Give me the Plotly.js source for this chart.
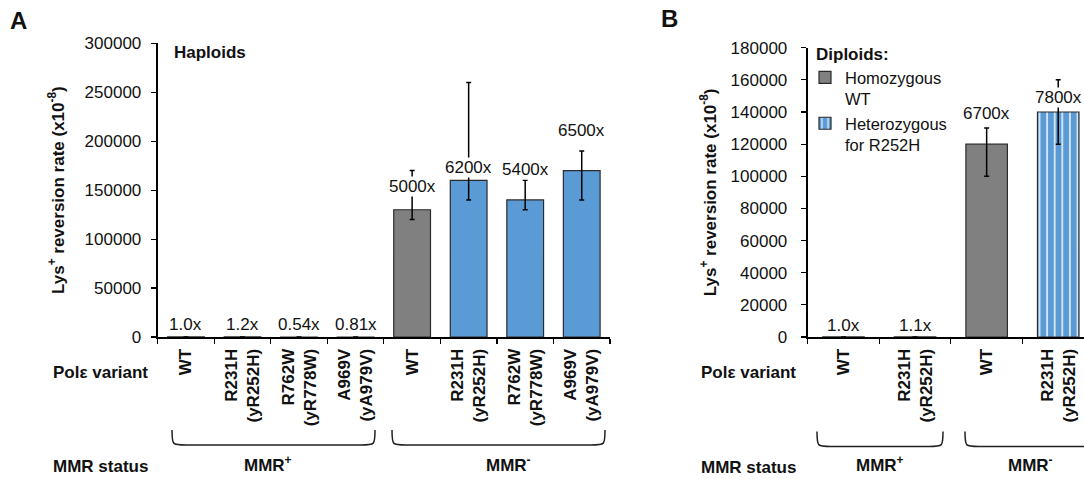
<!DOCTYPE html>
<html>
<head>
<meta charset="utf-8">
<script src="https://cdn.plot.ly/plotly-3.0.1.min.js"></script>
<style>html,body{margin:0;padding:0;background:#fff;}#chart{width:1084px;height:479px;}</style>
</head>
<body>
<div id="chart"></div>
<script>
// ---------- data ----------
const catIdsA = ["a_wt_p","a_r231_p","a_r762_p","a_a969_p","a_wt_m","a_r231_m","a_r762_m","a_a969_m"];
const tickTextA = ["WT","R231H<br>(yR252H)","R762W<br>(yR778W)","A969V<br>(yA979V)","WT","R231H<br>(yR252H)","R762W<br>(yR778W)","A969V<br>(yA979V)"];
const ratesA = [26, 31, 14, 21, 130000, 160000, 140000, 170000];
const errPlusA = [0, 0, 0, 0, 40000, 100000, 20000, 20000];
const errMinusA = [0, 0, 0, 0, 10000, 20000, 10000, 30000];
const foldA = ["1.0x","1.2x","0.54x","0.81x","5000x","6200x","5400x","6500x"];
const isWtA = [true, false, false, false, true, false, false, false];

const catIdsB = ["b_wt_p","b_r231_p","b_wt_m","b_r231_m"];
const tickTextB = ["WT","R231H<br>(yR252H)","WT","R231H<br>(yR252H)"];
const ratesB = [18, 20, 120000, 140000];
const errPlusB = [0, 0, 10000, 20000];
const errMinusB = [0, 0, 20000, 20000];
const foldB = ["1.0x","1.1x","6700x","7800x"];
const isWtB = [true, false, true, false];

const groupLabels = ["MMR<sup>+</sup>", "MMR<sup>-</sup>"];

// ---------- styling / positions ----------
const W = 1084, H = 479, MT = 40, MB = 142;
const PH = H - MT - MB;
const px = p => p / W;
const py = p => (H - MB - p) / PH;
const GRAY = "#808080", BLUE = "#5b9bd5", EDGE = "#2b2b2b", TXT = "#111111";
const FONT = "Liberation Sans, Arial, sans-serif";
const liftA = [12, 12, 12, 12, 23, 13, 30, 40];   // label centre above bar top (px)
const liftB = [11, 11, 31, 14];

function pick(arr, mask, want) { return arr.filter((_, i) => mask[i] === want); }

const errStyle = {type: "data", visible: true, color: "#000", thickness: 1.5, width: 2.5};

const traces = [
  {
    type: "bar", x: catIdsA, y: ratesA, xaxis: "x", yaxis: "y", width: 0.65,
    marker: {color: isWtA.map(w => w ? GRAY : BLUE), line: {color: EDGE, width: 1.2}},
    error_y: Object.assign({array: errPlusA, arrayminus: errMinusA, symmetric: false}, errStyle),
    showlegend: false, hoverinfo: "x+y"
  },
  {
    type: "bar", name: "Homozygous<br>WT",
    x: pick(catIdsB, isWtB, true), y: pick(ratesB, isWtB, true), xaxis: "x2", yaxis: "y2", width: 0.58,
    marker: {color: GRAY, line: {color: EDGE, width: 1.2}},
    error_y: Object.assign({array: pick(errPlusB, isWtB, true), arrayminus: pick(errMinusB, isWtB, true), symmetric: false}, errStyle)
  },
  {
    type: "bar", name: "Heterozygous<br>for R252H",
    x: pick(catIdsB, isWtB, false), y: pick(ratesB, isWtB, false), xaxis: "x2", yaxis: "y2", width: 0.58,
    marker: {color: BLUE, line: {color: EDGE, width: 1.2},
             pattern: {shape: "|", fgcolor: "#ffffff", bgcolor: BLUE, size: 7.6, solidity: 0.18, fillmode: "replace"}},
    error_y: Object.assign({array: pick(errPlusB, isWtB, false), arrayminus: pick(errMinusB, isWtB, false), symmetric: false}, errStyle)
  }
];

const axisFont = {family: FONT, size: 17, color: TXT};
const boldFont = {family: FONT, size: 17, color: TXT, weight: "bold"};

function xAxis(domain, ids, texts, range) {
  return {
    domain: domain, type: "category", categoryorder: "array", categoryarray: ids,
    tickmode: "array", tickvals: ids, ticktext: texts, tickangle: -90,
    tickson: "boundaries", ticks: "outside", ticklen: 5, tickwidth: 1.2, tickcolor: "#000",
    showline: true, linecolor: "#000", linewidth: 2, showgrid: false, zeroline: false,
    tickfont: boldFont, range: range, fixedrange: true, ticklabelstandoff: 3
  };
}
function yAxis(domain, anchor, max, dtick, standoff, titleStandoff) {
  return {
    domain: domain, anchor: anchor, range: [0, max], dtick: dtick, tickformat: "d",
    ticks: "outside", ticklen: 5, tickwidth: 1.2, tickcolor: "#000",
    showline: true, linecolor: "#000", linewidth: 2, showgrid: false, zeroline: false,
    tickfont: axisFont, ticklabelstandoff: standoff, fixedrange: true,
    title: {text: "Lys<sup>+</sup> reversion rate (x10<sup>-8</sup>)", font: boldFont, standoff: titleStandoff}
  };
}

const annotations = [];
function addFold(list, ids, vals, lifts, xref, yref) {
  list.forEach((t, i) => annotations.push({
    xref: xref, yref: yref, x: ids[i], y: vals[i], text: t, showarrow: false,
    yanchor: "middle", yshift: lifts[i], font: axisFont, bgcolor: "#ffffff", borderpad: 0
  }));
}
addFold(foldA, catIdsA, ratesA, liftA, "x", "y");
addFold(foldB, catIdsB, ratesB, liftB, "x2", "y2");

function paperText(text, x, y, anchor, font) {
  annotations.push({xref: "paper", yref: "paper", x: px(x), y: py(y), text: text, showarrow: false,
    xanchor: anchor, yanchor: "middle", font: font || boldFont});
}
paperText("A", 8, 20, "left", {family: FONT, size: 24, color: TXT, weight: "bold"});
paperText("B", 659, 19, "left", {family: FONT, size: 24, color: TXT, weight: "bold"});
paperText("Haploids", 172, 52, "left");
paperText("Pol\u03b5 variant", 150, 373, "right");
paperText("MMR status", 150, 466, "right");
paperText("Pol\u03b5 variant", 798, 373, "right");
paperText("MMR status", 798, 467, "right");
paperText(groupLabels[0], 268, 464, "center");
paperText(groupLabels[1], 508, 464, "center");
paperText(groupLabels[0], 880, 464, "center");
paperText(groupLabels[1], 1030, 464, "center");

function brace(x1, x2, top, bottom) {
  const r = 14;
  const path = `M ${px(x1)},${py(top)} C ${px(x1)},${py(bottom)} ${px(x1)},${py(bottom)} ${px(x1 + r)},${py(bottom)} ` +
               `L ${px(x2 - r)},${py(bottom)} C ${px(x2)},${py(bottom)} ${px(x2)},${py(bottom)} ${px(x2)},${py(top)}`;
  return {type: "path", xref: "paper", yref: "paper", path: path, line: {color: "#222", width: 1.5}};
}
const shapes = [
  brace(172, 375, 430, 445),
  brace(392, 605, 430, 445),
  brace(817, 943, 431.5, 446.5),
  brace(965, 1105, 431.5, 446.5)
];

const layout = {
  width: W, height: H, margin: {l: 0, r: 0, t: MT, b: MB, pad: 0},
  paper_bgcolor: "#fff", plot_bgcolor: "rgba(0,0,0,0)",
  font: axisFont, bargap: 0.35, barmode: "group",
  xaxis: xAxis([px(157.7), px(610)], catIdsA, tickTextA, [-0.5, 7.5]),
  yaxis: yAxis([0, py(43.3)], "x", 300000, 50000, 6, 16),
  xaxis2: xAxis([px(807.7), 1], catIdsB, tickTextB, [-0.5, 3.36]),
  yaxis2: yAxis([0, py(47.7)], "x2", 180000, 20000, 10, 10),
  showlegend: true,
  legend: {
    x: px(814), y: py(38), xanchor: "left", yanchor: "top", bgcolor: "rgba(0,0,0,0)",
    font: {family: FONT, size: 16.5, color: TXT}, valign: "top", tracegroupgap: 0, itemwidth: 30,
    indentation: -9,
    title: {text: "Diploids:", font: boldFont}
  },
  annotations: annotations, shapes: shapes
};

Plotly.newPlot("chart", traces, layout, {displayModeBar: false, staticPlot: true});
</script>
</body>
</html>
